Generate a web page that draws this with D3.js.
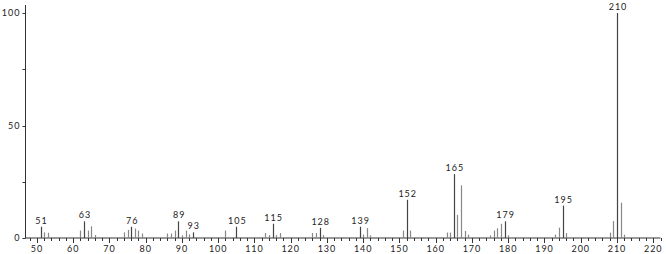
<!DOCTYPE html>
<html>
<head>
<meta charset="utf-8">
<script src="https://cdn.jsdelivr.net/npm/d3@7"></script>
<style>
  body { margin: 0; background: #fff; }
  text { font-family: Lato, "DejaVu Sans", sans-serif; }
</style>
</head>
<body>
<div id="chart"></div>
<script>
// m/z values of the peaks
var masses = [51, 52, 53, 62, 63, 64, 65, 66,
    74, 75, 76, 77, 78, 79, 86, 87, 88, 89, 90, 91, 92, 93,
    102, 105, 113, 114, 115, 116, 117, 126, 127, 128, 129,
    139, 140, 141, 142, 151, 152, 153,
    163, 164, 165, 166, 167, 168, 169,
    175, 176, 177, 178, 179, 180,
    193, 194, 195, 196, 208, 209, 210, 211, 212];

// relative intensity (%)
var intensities = [5.0, 2.5, 2.3, 3.3, 7.4, 3.3, 5.2, 1.3,
    2.5, 3.6, 5.0, 4.2, 3.3, 2.0, 2.0, 2.0, 3.3, 7.4, 1.2, 3.3, 1.6, 2.5,
    3.3, 5.0, 2.2, 1.3, 6.3, 1.3, 2.2, 2.2, 2.2, 4.5, 1.3,
    5.0, 1.5, 4.4, 1.2, 3.3, 17.0, 3.3,
    2.4, 2.4, 28.4, 10.3, 23.4, 3.1, 1.5,
    1.2, 3.3, 4.3, 6.3, 7.4, 1.2,
    1.5, 4.6, 14.4, 2.2, 2.4, 7.5, 100, 15.7, 1.5];

// peaks that carry a label
var labelled = [51, 63, 76, 89, 93, 105, 115, 128, 139, 152, 165, 179, 195, 210];

var xTicks = [50, 60, 70, 80, 90, 100, 110, 120, 130, 140, 150, 160, 170, 180, 190, 200, 210, 220];
var yTicks = [0, 50, 100];

var W = 666, H = 254;

var svg = d3.select("#chart")
    .append("svg")
    .attr("width", W)
    .attr("height", H);

var x = d3.scaleLinear()
    .domain([46.7, 222])
    .range([25, 660.5]);

var y = d3.scaleLinear()
    .domain([0, 100])
    .range([238, 13]);

var peaks = masses.map(function (m, i) { return { mz: m, val: intensities[i] }; });

// x axis: minor ticks every 2, labelled every 10
var minor = d3.range(48, 223, 2);
var gx = svg.append("g")
    .attr("transform", "translate(0," + y(0) + ")");
gx.append("line")
    .attr("x1", x(46.7)).attr("x2", x(222))
    .attr("stroke", "#333").attr("stroke-width", 1);
gx.selectAll("line.tk")
    .data(minor)
    .enter().append("line")
    .attr("class", "tk")
    .attr("x1", function (d) { return Math.round(x(d)) + 0.5; })
    .attr("x2", function (d) { return Math.round(x(d)) + 0.5; })
    .attr("y1", 0)
    .attr("y2", function (d) { return d % 10 === 0 ? 5 : 3; })
    .attr("stroke", "#333");
gx.selectAll("text")
    .data(xTicks)
    .enter().append("text")
    .attr("x", function (d) { return x(d); })
    .attr("y", 14)
    .attr("text-anchor", "middle")
    .attr("font-size", 9)
    .attr("letter-spacing", 1)
    .attr("fill", "#222")
    .text(function (d) { return d; });

// y axis
var gy = svg.append("g")
    .attr("transform", "translate(" + 25.5 + ",0)");
gy.append("line")
    .attr("y1", y(0)).attr("y2", 5)
    .attr("stroke", "#333");
gy.selectAll("line.tk")
    .data([0, 25, 50, 75, 100])
    .enter().append("line")
    .attr("class", "tk")
    .attr("x1", -3).attr("x2", 0)
    .attr("y1", function (d) { return Math.round(y(d)) + 0.5; })
    .attr("y2", function (d) { return Math.round(y(d)) + 0.5; })
    .attr("stroke", "#333");
gy.selectAll("text")
    .data(yTicks)
    .enter().append("text")
    .attr("x", -5)
    .attr("y", function (d) { return y(d) + 3; })
    .attr("text-anchor", "end")
    .attr("font-size", 9)
    .attr("letter-spacing", 1)
    .attr("fill", "#222")
    .text(function (d) { return d; });

// peaks
svg.selectAll("line.peak")
    .data(peaks)
    .enter().append("line")
    .attr("class", "peak")
    .attr("x1", function (d) { return Math.round(x(d.mz)) + 0.5; })
    .attr("x2", function (d) { return Math.round(x(d.mz)) + 0.5; })
    .attr("y1", y(0))
    .attr("y2", function (d) { return y(d.val); })
    .attr("stroke", function (d) { return labelled.indexOf(d.mz) >= 0 ? "#444" : "#888"; })
    .attr("stroke-width", 1.2);

// peak labels
svg.selectAll("text.lbl")
    .data(peaks.filter(function (d) { return labelled.indexOf(d.mz) >= 0; }))
    .enter().append("text")
    .attr("class", "lbl")
    .attr("x", function (d) { return x(d.mz) + 1; })
    .attr("y", function (d) { return y(d.val) - 3; })
    .attr("text-anchor", "middle")
    .attr("font-size", 9)
    .attr("letter-spacing", 1)
    .attr("fill", "#222")
    .text(function (d) { return d.mz; });
</script>
</body>
</html>
